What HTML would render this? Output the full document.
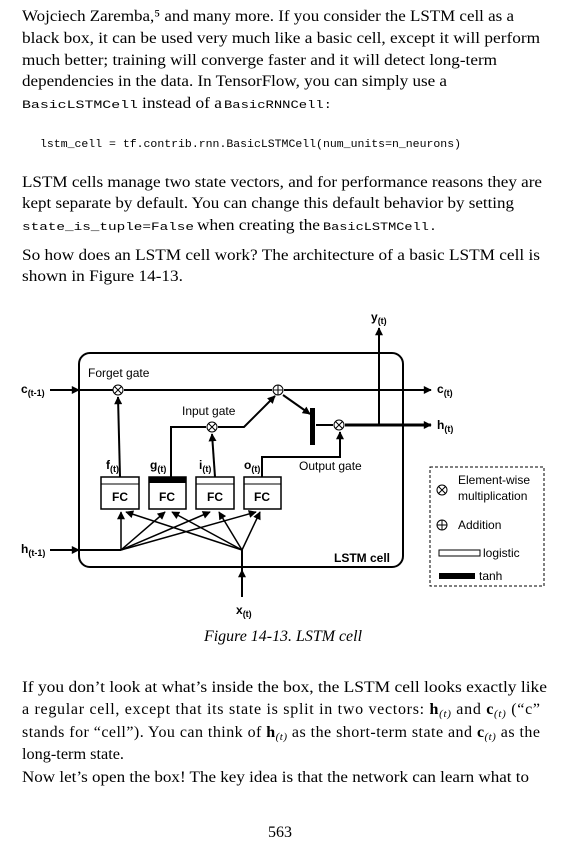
<!DOCTYPE html>
<html><head><meta charset="utf-8"><style>
html,body{margin:0;padding:0;background:#fff;}
svg{display:block;}
.t{font-family:"Liberation Serif",serif;font-size:16px;fill:#000;}
.m{font-family:"Liberation Mono",monospace;font-size:11px;fill:#000;}
.s{font-family:"Liberation Sans",sans-serif;font-size:12px;fill:#000;}
.b{font-family:"Liberation Sans",sans-serif;font-size:12px;font-weight:bold;fill:#000;}
</style></head><body>
<svg width="581" height="841" viewBox="0 0 581 841" xmlns="http://www.w3.org/2000/svg">
<defs><marker id="a" viewBox="0 0 10 10" refX="9" refY="5" markerUnits="userSpaceOnUse" markerWidth="9" markerHeight="8" orient="auto"><path d="M0,0L10,5L0,10z" fill="#000"/></marker></defs>
<text class="t" x="22" y="21" textLength="492" lengthAdjust="spacingAndGlyphs">Wojciech Zaremba,⁵ and many more. If you consider the LSTM cell as a</text>
<text class="t" x="22" y="43" textLength="518" lengthAdjust="spacingAndGlyphs">black box, it can be used very much like a basic cell, except it will perform</text>
<text class="t" x="22" y="65" textLength="475" lengthAdjust="spacingAndGlyphs">much better; training will converge faster and it will detect long-term</text>
<text class="t" x="22" y="86" textLength="425" lengthAdjust="spacingAndGlyphs">dependencies in the data. In TensorFlow, you can simply use a</text>
<text class="m" x="22" y="108" textLength="116" lengthAdjust="spacingAndGlyphs">BasicLSTMCell</text>
<text class="t" x="142" y="108" textLength="80" lengthAdjust="spacingAndGlyphs">instead of a</text>
<text class="m" x="224" y="108" textLength="108" lengthAdjust="spacingAndGlyphs">BasicRNNCell:</text>
<text class="m" x="40" y="147" textLength="421" lengthAdjust="spacingAndGlyphs">lstm_cell = tf.contrib.rnn.BasicLSTMCell(num_units=n_neurons)</text>
<text class="t" x="22" y="187" textLength="520" lengthAdjust="spacingAndGlyphs">LSTM cells manage two state vectors, and for performance reasons they are</text>
<text class="t" x="22" y="208" textLength="492" lengthAdjust="spacingAndGlyphs">kept separate by default. You can change this default behavior by setting</text>
<text class="m" x="22" y="230" textLength="172" lengthAdjust="spacingAndGlyphs">state_is_tuple=False</text>
<text class="t" x="197" y="230" textLength="123" lengthAdjust="spacingAndGlyphs">when creating the</text>
<text class="m" x="323" y="230" textLength="114" lengthAdjust="spacingAndGlyphs">BasicLSTMCell.</text>
<text class="t" x="22" y="260" textLength="518" lengthAdjust="spacingAndGlyphs">So how does an LSTM cell work? The architecture of a basic LSTM cell is</text>
<text class="t" x="22" y="281" textLength="161" lengthAdjust="spacingAndGlyphs">shown in Figure 14-13.</text>

<!-- diagram -->
<g fill="none" stroke="#000" stroke-width="2">
<rect x="79" y="353" width="324" height="214" rx="11"/>
<line x1="50" y1="390" x2="79" y2="390" marker-end="url(#a)"/>
<line x1="79" y1="390" x2="113" y2="390"/>
<line x1="124" y1="390" x2="272" y2="390"/>
<line x1="284" y1="390" x2="431" y2="390" marker-end="url(#a)"/>
<line x1="50" y1="550" x2="79" y2="550" marker-end="url(#a)"/>
<line x1="79" y1="550" x2="121" y2="550"/>
<line x1="120" y1="477" x2="118" y2="397" marker-end="url(#a)"/>
<polyline points="171,477 171,427 206,427"/>
<polyline points="218,427 244,427 275,396" marker-end="url(#a)"/>
<line x1="215" y1="477" x2="212" y2="434" marker-end="url(#a)"/>
<line x1="283" y1="395" x2="310" y2="414" marker-end="url(#a)"/>
<line x1="316" y1="425" x2="333" y2="425"/>
<polyline points="262,477 262,457 340,457 340,432" marker-end="url(#a)"/>
<line x1="345" y1="425" x2="431" y2="425" stroke-width="3" marker-end="url(#a)"/>
<line x1="379" y1="425" x2="379" y2="328" marker-end="url(#a)"/>
<line x1="242" y1="597" x2="242" y2="570" marker-end="url(#a)"/>
<line x1="242" y1="570" x2="242" y2="550"/>
</g>
<g fill="none" stroke="#000" stroke-width="1.5" marker-end="url(#a)">
<line x1="121" y1="550" x2="121" y2="512"/>
<line x1="121" y1="550" x2="165" y2="512"/>
<line x1="121" y1="550" x2="210" y2="512"/>
<line x1="121" y1="550" x2="256" y2="512"/>
<line x1="242" y1="550" x2="126" y2="512"/>
<line x1="242" y1="550" x2="172" y2="512"/>
<line x1="242" y1="550" x2="219" y2="512"/>
<line x1="242" y1="550" x2="260" y2="512"/>
</g>
<rect x="310" y="408" width="5" height="37" fill="#000"/>
<g fill="#fff" stroke="#000" stroke-width="1">
<circle cx="118" cy="390" r="5"/><circle cx="278" cy="390" r="5"/>
<circle cx="212" cy="427" r="5"/><circle cx="339" cy="425" r="5"/>
</g>
<g stroke="#000" stroke-width="1">
<path d="M114.5,386.5l7,7M121.5,386.5l-7,7M208.5,423.5l7,7M215.5,423.5l-7,7M335.5,421.5l7,7M342.5,421.5l-7,7M278,385v10M273,390h10"/>
</g>
<g fill="#fff" stroke="#000" stroke-width="1.5">
<rect x="101" y="477" width="38" height="32"/><rect x="149" y="477" width="37" height="32"/>
<rect x="196" y="477" width="38" height="32"/><rect x="244" y="477" width="37" height="32"/>
</g>
<g stroke="#000" stroke-width="1"><line x1="101" y1="484" x2="139" y2="484"/><line x1="196" y1="484" x2="234" y2="484"/><line x1="244" y1="484" x2="281" y2="484"/></g>
<rect x="149" y="477" width="37" height="6" fill="#000"/>
<g class="b" text-anchor="middle"><text x="120" y="501">FC</text><text x="167" y="501">FC</text><text x="215" y="501">FC</text><text x="262" y="501">FC</text></g>
<text class="s" x="88" y="377">Forget gate</text>
<text class="s" x="182" y="415">Input gate</text>
<text class="s" x="299" y="470">Output gate</text>
<text class="b" x="334" y="562">LSTM cell</text>
<g class="b"><text x="106" y="469">f<tspan font-size="9" dy="3">(t)</tspan></text>
<text x="150" y="469">g<tspan font-size="9" dy="3">(t)</tspan></text>
<text x="199" y="469">i<tspan font-size="9" dy="3">(t)</tspan></text>
<text x="244" y="469">o<tspan font-size="9" dy="3">(t)</tspan></text>
<text x="21" y="393">c<tspan font-size="9" dy="3">(t-1)</tspan></text>
<text x="21" y="553">h<tspan font-size="9" dy="3">(t-1)</tspan></text>
<text x="437" y="393">c<tspan font-size="9" dy="3">(t)</tspan></text>
<text x="437" y="429">h<tspan font-size="9" dy="3">(t)</tspan></text>
<text x="371" y="321">y<tspan font-size="9" dy="3">(t)</tspan></text>
<text x="236" y="614">x<tspan font-size="9" dy="3">(t)</tspan></text></g>
<rect x="430" y="467" width="114" height="119" fill="none" stroke="#000" stroke-width="1" stroke-dasharray="3,2"/>
<circle cx="442" cy="490" r="5" fill="#fff" stroke="#000"/><path d="M438.5,486.5l7,7M445.5,486.5l-7,7" stroke="#000"/>
<circle cx="442" cy="525" r="5" fill="#fff" stroke="#000"/><path d="M442,520v10M437,525h10" stroke="#000"/>
<text class="s" x="458" y="484">Element-wise</text>
<text class="s" x="458" y="500">multiplication</text>
<text class="s" x="458" y="529">Addition</text>
<rect x="439" y="550" width="41" height="6" fill="#fff" stroke="#000"/>
<text class="s" x="483" y="557">logistic</text>
<rect x="439" y="573" width="36" height="6" fill="#000"/>
<text class="s" x="479" y="580">tanh</text>
<text class="t" x="204" y="641" font-style="italic" font-size="14" textLength="158" lengthAdjust="spacingAndGlyphs">Figure 14-13. LSTM cell</text>

<text class="t" x="22" y="692" textLength="525" lengthAdjust="spacingAndGlyphs">If you don’t look at what’s inside the box, the LSTM cell looks exactly like</text>
<text class="t" x="22" y="714" textLength="518">a regular cell, except that its state is split in two vectors: <tspan font-weight="bold">h</tspan><tspan font-size="11" font-style="italic" dy="3">(t)</tspan><tspan dy="-3"> and </tspan><tspan font-weight="bold">c</tspan><tspan font-size="11" font-style="italic" dy="3">(t)</tspan><tspan dy="-3"> (“c”</tspan></text>
<text class="t" x="22" y="737" textLength="518">stands for “cell”). You can think of <tspan font-weight="bold">h</tspan><tspan font-size="11" font-style="italic" dy="3">(t)</tspan><tspan dy="-3"> as the short-term state and </tspan><tspan font-weight="bold">c</tspan><tspan font-size="11" font-style="italic" dy="3">(t)</tspan><tspan dy="-3"> as the</tspan></text>
<text class="t" x="22" y="759" textLength="102" lengthAdjust="spacingAndGlyphs">long-term state.</text>
<text class="t" x="22" y="782" textLength="507" lengthAdjust="spacingAndGlyphs">Now let’s open the box! The key idea is that the network can learn what to</text>
<text class="t" x="280" y="837" text-anchor="middle">563</text>
</svg>
</body></html>
